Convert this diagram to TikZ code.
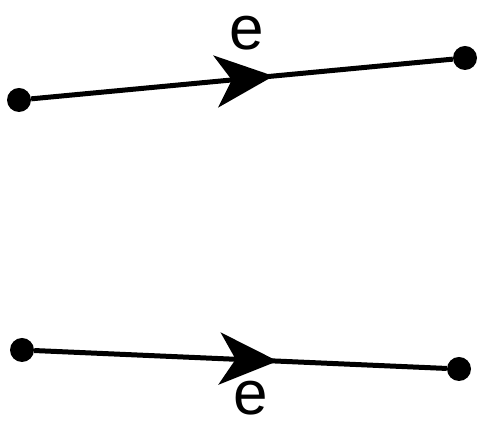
\documentclass[tikz,border=0pt]{standalone}
\usepackage{fontspec}
\setmainfont{Liberation Sans}
\usetikzlibrary{arrows.meta,decorations.markings}
\begin{document}
\begin{tikzpicture}[x=1pt,y=1pt,
  dot/.style={circle,fill=black,inner sep=0pt,minimum size=24pt},
  edge/.style={line width=5pt},
  lbl/.style={font=\fontsize{62}{62}\selectfont,inner sep=0pt},
  midarrow/.style={postaction={decorate},decoration={markings,
    mark=at position #1 with {\arrow{Stealth[length=58pt,width=52pt,inset=16pt]}}}}]
\useasboundingbox (0,0) rectangle (480,425);
\node[dot] (a1) at (19,325) {};
\node[dot] (b1) at (465,367) {};
\node[dot] (a2) at (22,75) {};
\node[dot] (b2) at (459,56) {};
\draw[edge,midarrow=0.575] (a1) -- (b1);
\draw[edge,midarrow=0.59] (a2) -- (b2);
\node[lbl] (e1) at (247,392) {e};
\node[lbl] (e2) at (251,27) {e};
\end{tikzpicture}
\end{document}
